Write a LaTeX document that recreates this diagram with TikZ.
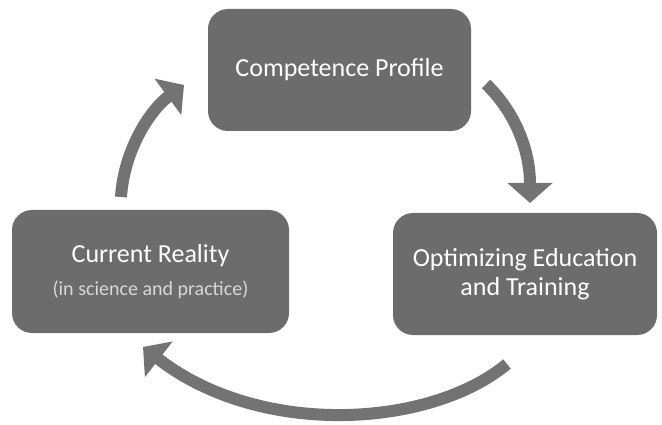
\documentclass[tikz,border=0pt]{standalone}
\usepackage{fontspec}
\setmainfont{Carlito}
\usetikzlibrary{arrows.meta}
\definecolor{boxgray}{RGB}{108,108,108}
\definecolor{arrowgray}{RGB}{115,115,115}
\definecolor{subtext}{RGB}{215,215,215}
\tikzset{
  stagebox/.style={draw=none, fill=boxgray, rounded corners=20pt, text=white,
    align=center, inner sep=0pt, font=\fontsize{26}{29}\selectfont},
  cyclearrow/.style={draw=arrowgray, line width=12pt,
    -{Triangle[width=44pt,length=20pt]}}
}
\begin{document}
\begin{tikzpicture}[x=1pt,y=-1pt]
\useasboundingbox (0,0) rectangle (662,425);
\node[stagebox, minimum width=263pt, minimum height=122pt] (cp) at (339.5,70) {Competence Profile};
\node[stagebox, minimum width=277pt, minimum height=123pt] (cr) at (150.5,271.5)
  {Current Reality\\[4pt]{\color{subtext}\fontsize{20}{24}\selectfont (in science and practice)}};
\node[stagebox, minimum width=264pt, minimum height=122pt] (oe) at (525,274)
  {Optimizing Education\\and Training};
\coordinate (a1s) at (121,197);
\coordinate (a1e) at (184,85);
\coordinate (a2s) at (486,84);
\coordinate (a2e) at (530,203);
\coordinate (a3s) at (507,364);
\coordinate (a3e) at (143,347);
\draw[cyclearrow] (a1s) .. controls (124,150) and (150,110) .. (a1e);
\draw[cyclearrow] (a2s) .. controls (515,112) and (530,150) .. (a2e);
\draw[cyclearrow] (a3s) .. controls (430,428) and (260,438) .. (a3e);
\end{tikzpicture}
\end{document}
